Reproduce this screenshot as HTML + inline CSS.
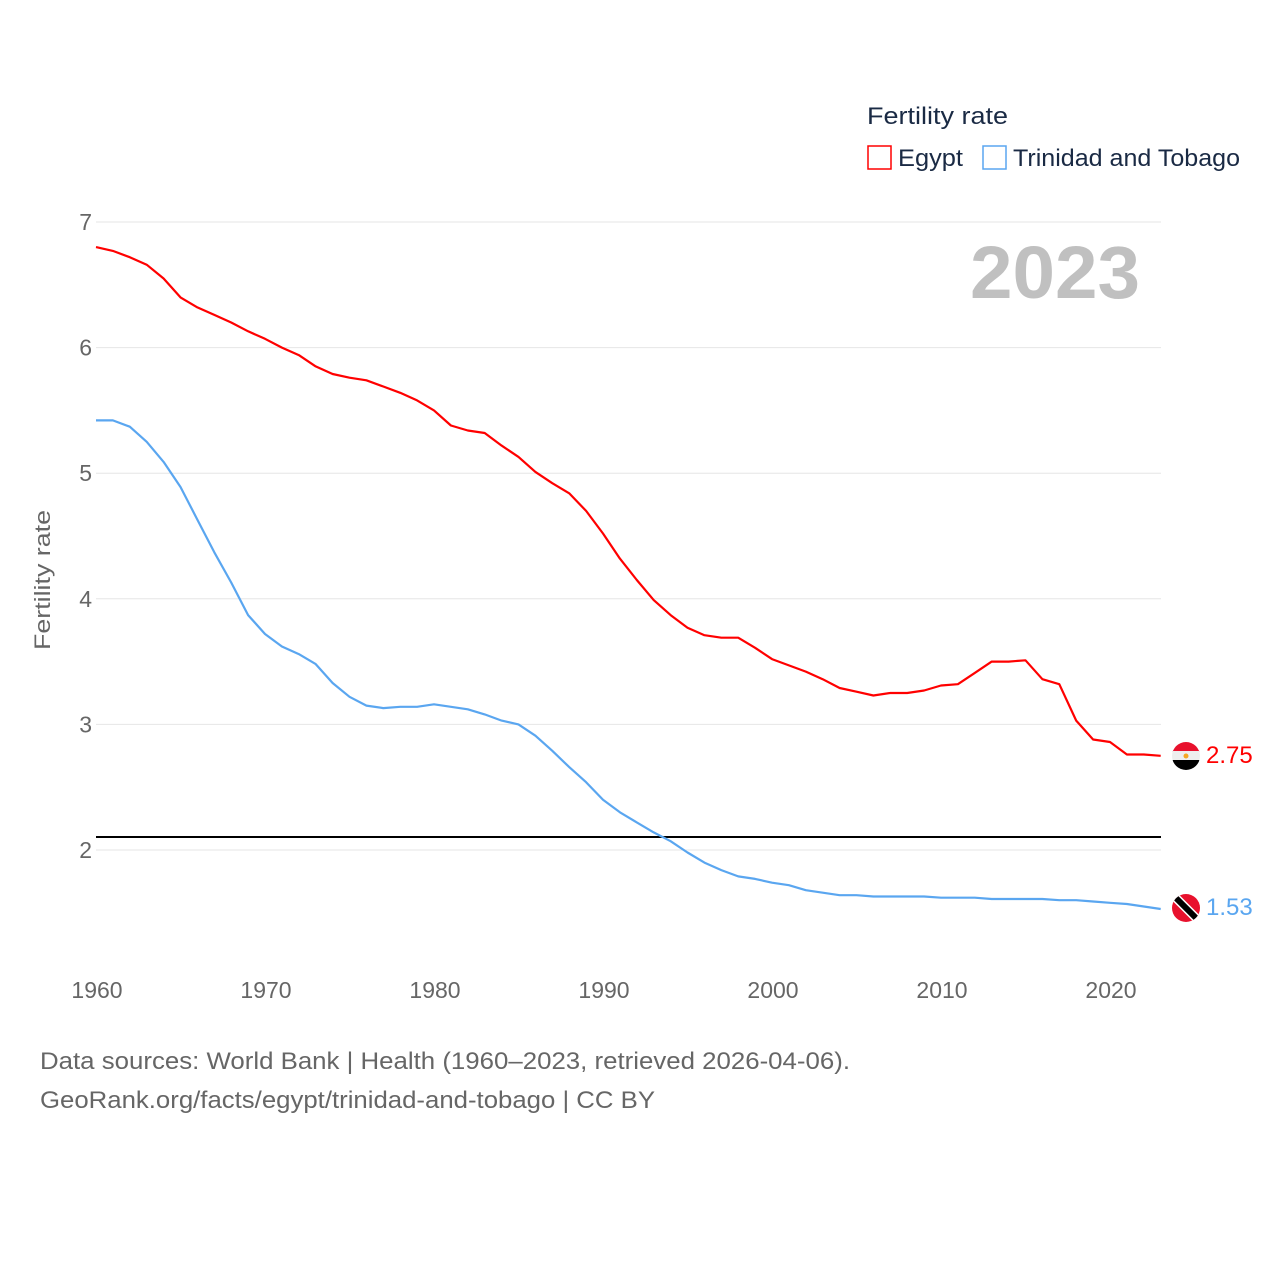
<!DOCTYPE html>
<html><head><meta charset="utf-8"><style>
body{margin:0;background:#fff;}
svg text{font-family:"Liberation Sans",sans-serif;}
</style></head><body>
<svg id="chart" width="1280" height="1280" xmlns="http://www.w3.org/2000/svg">
<defs>
<clipPath id="c1"><circle cx="1186" cy="756" r="14"/></clipPath>
<clipPath id="c2"><circle cx="1186" cy="908" r="14"/></clipPath>
</defs>
<g id="grid"></g>
<g id="yticks"></g>
<g id="xticks"></g>
<text transform="translate(50,580) rotate(-90)" text-anchor="middle" font-size="22" fill="#666" textLength="140" lengthAdjust="spacingAndGlyphs">Fertility rate</text>
<text x="970" y="298" font-size="74" font-weight="bold" fill="#c0c0c0" textLength="170" lengthAdjust="spacingAndGlyphs">2023</text>
<text x="867" y="124" font-size="24" fill="#1a2a44" textLength="141" lengthAdjust="spacingAndGlyphs">Fertility rate</text>
<rect x="868" y="146" width="23" height="23" fill="none" stroke="#ff0000" stroke-width="1.5"/>
<text x="898" y="166" font-size="24" fill="#1a2a44" textLength="65" lengthAdjust="spacingAndGlyphs">Egypt</text>
<rect x="983" y="146" width="23" height="23" fill="none" stroke="#5aa6f0" stroke-width="1.5"/>
<text x="1013" y="166" font-size="24" fill="#1a2a44" textLength="227" lengthAdjust="spacingAndGlyphs">Trinidad and Tobago</text>
<line x1="96" x2="1161" y1="837" y2="837" stroke="#000" stroke-width="2"/>
<g id="series"></g>
<g clip-path="url(#c1)">
<rect x="1172" y="742" width="28" height="10" fill="#e8112d"/><rect x="1172" y="751" width="28" height="10" fill="#eee"/><rect x="1172" y="760" width="28" height="10" fill="#000"/><circle cx="1186" cy="756" r="2.5" fill="#f5a623"/>
</g>
<g clip-path="url(#c2)">
<rect x="1172" y="894" width="28" height="28" fill="#e8112d"/>
<line x1="1174" y1="896" x2="1198" y2="920" stroke="#fff" stroke-width="9"/>
<line x1="1174" y1="896" x2="1198" y2="920" stroke="#000" stroke-width="6"/>
</g>
<text x="1206" y="763" font-size="24" fill="#ff0000">2.75</text>
<text x="1206" y="915" font-size="24" fill="#5aa6f0">1.53</text>
<text x="40" y="1069" font-size="24" fill="#666" textLength="810" lengthAdjust="spacingAndGlyphs">Data sources: World Bank | Health (1960–2023, retrieved 2026-04-06).</text>
<text x="40" y="1108" font-size="24" fill="#666" textLength="615" lengthAdjust="spacingAndGlyphs">GeoRank.org/facts/egypt/trinidad-and-tobago | CC BY</text>
</svg>
<script>
const startYear = 1960;
const egypt = [6.80,6.77,6.72,6.66,6.55,6.40,6.32,6.26,6.20,6.13,6.07,6.00,5.94,5.85,5.79,5.76,5.74,5.69,5.64,5.58,5.50,5.38,5.34,5.32,5.22,5.13,5.01,4.92,4.84,4.70,4.52,4.32,4.15,3.99,3.87,3.77,3.71,3.69,3.69,3.61,3.52,3.47,3.42,3.36,3.29,3.26,3.23,3.25,3.25,3.27,3.31,3.32,3.41,3.50,3.50,3.51,3.36,3.32,3.03,2.88,2.86,2.76,2.76,2.75];
const trinidad = [5.42,5.42,5.37,5.25,5.09,4.89,4.63,4.37,4.13,3.87,3.72,3.62,3.56,3.48,3.33,3.22,3.15,3.13,3.14,3.14,3.16,3.14,3.12,3.08,3.03,3.00,2.91,2.79,2.66,2.54,2.40,2.30,2.22,2.14,2.07,1.98,1.90,1.84,1.79,1.77,1.74,1.72,1.68,1.66,1.64,1.64,1.63,1.63,1.63,1.63,1.62,1.62,1.62,1.61,1.61,1.61,1.61,1.60,1.60,1.59,1.58,1.57,1.55,1.53];
const yTicks = [2,3,4,5,6,7];
const xTicks = [1960,1970,1980,1990,2000,2010,2020];
const NS='http://www.w3.org/2000/svg';
const xS = y => 96 + (y-1960)*16.9;
const yS = v => 850 - (v-2)*125.6;
const g=document.getElementById('grid'), yt=document.getElementById('yticks'), xt=document.getElementById('xticks'), s=document.getElementById('series');
yTicks.forEach(v=>{
  const l=document.createElementNS(NS,'line');
  
  
  l.setAttribute('x1',96);l.setAttribute('x2',1161);l.setAttribute('y1',yS(v));l.setAttribute('y2',yS(v));
  l.setAttribute('stroke','#e6e6e6');l.setAttribute('stroke-width','1');g.appendChild(l);
  const t=document.createElementNS(NS,'text');
  
  
  t.setAttribute('x',92);t.setAttribute('y',yS(v)+8);t.setAttribute('text-anchor','end');
  t.setAttribute('font-size','23');t.setAttribute('fill','#666');t.textContent=v;yt.appendChild(t);
});
xTicks.forEach(v=>{
  const t=document.createElementNS(NS,'text');
  
  
  t.setAttribute('x',xS(v)+1);t.setAttribute('y',998);t.setAttribute('text-anchor','middle');
  t.setAttribute('font-size','23');t.setAttribute('fill','#666');t.textContent=v;xt.appendChild(t);
});
function line(data,color,name){
  const p=document.createElementNS(NS,'polyline');
  
  
  p.setAttribute('points',data.map((v,i)=>xS(startYear+i).toFixed(1)+','+yS(v).toFixed(1)).join(' '));
  p.setAttribute('fill','none');p.setAttribute('stroke',color);p.setAttribute('stroke-width','2.2');
  p.setAttribute('stroke-linejoin','round');s.appendChild(p);
}
line(trinidad,'#5aa6f0','trinidad-line');
line(egypt,'#ff0000','egypt-line');
</script>
</body></html>
